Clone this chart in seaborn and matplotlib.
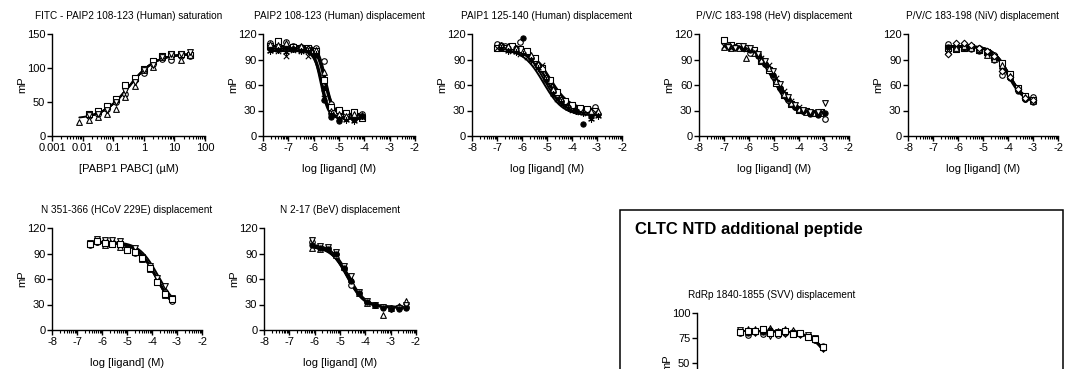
import numpy as np
import pandas as pd
import matplotlib
matplotlib.use("Agg")
import matplotlib.pyplot as plt
import seaborn as sns
from matplotlib.patches import Rectangle
from matplotlib.ticker import FixedLocator, FuncFormatter, NullFormatter, LogLocator

nan = np.nan

# ---------------- FITC-PAIP2 saturation: PABP1 PABC (uM) vs mP ----------------
sat_conc = [0.0078, 0.0156, 0.031, 0.0625, 0.125, 0.25, 0.5, 1, 2, 4, 8, 16, 32]
sat_mp = [
    [nan, 30, 33, 40, 50, 62, 82, 93, 106, 113, 112, 117, 117],
    [nan, 33, 37, 44, 55, 75, 86, 98, 110, 117, 121, 120, 119],
    [20, 23, 28, 33, 40, 58, 73, 97, 102, 116, 118, 112, 119],
    [nan, 31, 32, 38, 50, 66, 80, 97, 104, 116, 121, 120, 123],
]
# top, bottom, EC50 (uM), Hill
sat_fit = [(121, 25, 0.33, 1.0)]

# ---------------- PAIP2 108-123 displacement ----------------
paip2_logc = [-7.71, -7.41, -7.11, -6.81, -6.51, -6.21, -5.91, -5.61, -5.31, -5.01, -4.71, -4.41, -4.10]
paip2_mp = [
    [110, 108, 111, 106, 105, 104, 103, 88, 38, 28, 27, 25, 26],
    [106, 112, 104, 105, 103, 104, 100, 66, 34, 31, 27, 28, 21],
    [101, 100, 94, 101, 100, 94, 98, 45, 25, 22, 23, 21, 22],
    [104, 103, 103, 102, 104, 102, 95, 42, 22, 18, 21, 20, 24],
    [108, 107, 109, 104, 106, 103, 101, 75, 30, 26, 24, 26, 25],
    [100, 101, 99, 102, 100, 100, 96, 55, 26, 20, 19, 18, 23],
]
# top, bottom, logIC50, Hill
paip2_fit = [(106, 26, -5.52, 3.0), (105, 25, -5.58, 2.8), (100, 22, -5.68, 2.8),
             (103, 21, -5.72, 3.0), (106, 25, -5.55, 2.6), (101, 20, -5.65, 3.0)]

# ---------------- PAIP1 125-140 displacement ----------------
paip1_logc_a = [-7.0, -6.7, -6.4, -6.1, -5.8, -5.5, -5.2, -4.9, -4.6, -4.3, -4.0, -3.7, -3.4, -3.1]
paip1_logc_b = [-6.85, -6.55, -6.25, -5.95, -5.65, -5.35, -5.05, -4.75, -4.45, -4.15, -3.85, -3.55, -3.25, -2.95]
paip1_mp = [
    [108, 106, 104, 111, 99, 90, 79, 63, 50, 40, 34, 31, 30, 34],
    [104, 103, 106, 102, 100, 92, 80, 66, 52, 41, 36, 33, 32, 30],
    [104, 103, 100, 97, 93, 85, 84, 60, 44, 36, 31, 28, 27, 28],
    [107, 104, 103, 115, 92, 82, 68, 53, 41, 34, 30, 14, 24, 26],
    [107, 106, 103, 100, 95, 85, 70, 55, 43, 35, 31, 29, 30, 29],
    [103, 100, 99, 96, 90, 80, 66, 50, 40, 33, 29, 27, 20, 24],
]
paip1_fit = [(106, 31, -4.92, 1.1), (105, 31, -4.88, 1.1), (103, 27, -5.00, 1.2),
             (106, 25, -5.10, 1.1), (106, 29, -5.02, 1.1), (102, 24, -5.15, 1.1)]

# ---------------- P/V/C 183-198 (HeV) displacement ----------------
hev_logc_a = [-7.0, -6.7, -6.4, -6.1, -5.8, -5.5, -5.2, -4.9, -4.6, -4.3, -4.0, -3.7, -3.4, -3.1]
hev_logc_b = [-6.85, -6.55, -6.25, -5.95, -5.65, -5.35, -5.05, -4.75, -4.45, -4.15, -3.85, -3.55, -3.25, -2.95]
hev_mp = [
    [113, 107, 106, 104, 101, 88, 78, 62, 48, 38, 31, 29, 27, 28],
    [105, 103, 104, 92, 98, 90, 80, 65, 50, 39, 32, 28, 27, 27],
    [106, 104, 105, 102, 99, 92, 83, 68, 53, 41, 34, 30, 28, 28],
    [107, 105, 104, 98, 96, 85, 71, 56, 42, 34, 30, 27, 26, 20],
    [106, 105, 103, 101, 94, 85, 72, 57, 43, 34, 29, 26, 25, 27],
    [105, 104, 106, 103, 97, 88, 76, 61, 46, 36, 31, 28, 28, 39],
]
hev_fit = [(107, 27, -4.95, 1.15), (105, 26, -4.92, 1.15), (106, 27, -4.88, 1.15),
           (106, 25, -5.00, 1.15), (105, 25, -5.02, 1.15), (106, 27, -4.94, 1.15)]

# ---------------- P/V/C 183-198 (NiV) displacement ----------------
niv_logc = [-6.4, -6.09, -5.78, -5.47, -5.16, -4.85, -4.55, -4.24, -3.93, -3.62, -3.31, -3.0]
niv_mp = [
    [108, 105, 107, 104, 104, 97, 95, 72, 70, 55, 44, 46],
    [103, 102, 104, 105, 101, 99, 93, 86, 73, 57, 47, 42],
    [105, 106, 104, 102, 100, 98, 90, 80, 68, 53, 43, 40],
    [100, 104, 106, 103, 102, 95, 91, 84, 71, 56, 46, 41],
    [97, 109, 109, 107, 103, 100, 94, 76, 69, 55, 45, 42],
]
niv_fit = [(106, 41, -3.98, 1.4), (105, 40, -3.95, 1.4), (105, 39, -4.02, 1.4),
           (106, 40, -3.97, 1.4), (106, 41, -4.02, 1.4)]

# ---------------- N 351-366 (HCoV 229E) displacement ----------------
hcov_logc = [-6.5, -6.2, -5.9, -5.6, -5.3, -5.0, -4.7, -4.4, -4.1, -3.8, -3.5, -3.2]
hcov_mp = [
    [100, 104, 105, 103, 99, 95, 91, 85, 74, 57, 45, 34],
    [101, 103, 103, 102, 100, 96, 93, 84, 73, 59, 43, 37],
    [101, 106, 100, 104, 98, 97, 93, 83, 72, 58, 41, 36],
    [102, 107, 106, 106, 105, 95, 96, 86, 75, 61, 52, 38],
    [101, 105, 102, 101, 101, 94, 92, 85, 73, 56, 42, 36],
]
hcov_fit = [(103, 22, -3.84, 1.15), (103, 22, -3.82, 1.15), (103, 20, -3.84, 1.15),
            (104, 24, -3.76, 1.15), (103, 21, -3.85, 1.15)]

# ---------------- N 2-17 (BeV) displacement ----------------
bev_logc = [-6.1, -5.79, -5.48, -5.17, -4.86, -4.55, -4.24, -3.93, -3.62, -3.31, -3.0, -2.69, -2.38]
bev_mp = [
    [103, 98, 97, 90, 73, 53, 44, 33, 30, 27, 26, 27, 27],
    [96, 95, 96, 88, 74, 60, 43, 32, 29, 18, 26, 28, 34],
    [106, 99, 98, 92, 75, 63, 45, 34, 30, 27, 25, 26, 30],
    [100, 97, 95, 89, 73, 58, 43, 33, 29, 26, 25, 25, 26],
]
bev_fit = [(100, 27, -4.72, 1.3), (98, 27, -4.70, 1.3), (101, 27, -4.66, 1.3), (99, 26, -4.72, 1.3)]

# ---------------- RdRp 1840-1855 (SVV) displacement ----------------
svv_logc = [-6.28, -5.98, -5.68, -5.38, -5.08, -4.78, -4.48, -4.18, -3.88, -3.58, -3.28, -2.98]
svv_mp = [
    [80, 78, 81, 79, 82, 78, 80, 81, 79, 76, 73, 65],
    [82, 84, 84, 83, 85, 82, 84, 83, 80, 77, 74, 66],
    [83, 81, 80, 84, 77, 81, 79, 80, 78, 78, 75, 64],
    [81, 80, 82, 81, 83, 80, 81, 80, 79, 76, 73, 67],
    [81, 82, 82, 84, 80, 80, 82, 79, 80, 76, 74, 66],
]
svv_fit = [(82, 0, -2.40, 1.0), (82, 0, -2.45, 1.0)]

# ------------------------------------------------------------------------------
sns.set_theme(style="ticks")
plt.rcParams["font.family"] = ["Liberation Sans", "DejaVu Sans"]
plt.rcParams.update({
    "text.color": "black", "axes.labelcolor": "black",
    "xtick.color": "black", "ytick.color": "black", "axes.edgecolor": "black",
})

W, H = 1066, 369
fig = plt.figure(figsize=(W / 100, H / 100), dpi=100)

MARKERS = {
    "circle": dict(marker="o", facecolor="white", edgecolor="black", s=16),
    "square": dict(marker="s", facecolor="white", edgecolor="black", s=15),
    "up": dict(marker="^", facecolor="white", edgecolor="black", s=17),
    "down": dict(marker="v", facecolor="white", edgecolor="black", s=17),
    "diamond": dict(marker="D", facecolor="white", edgecolor="black", s=11),
    "cross": dict(marker="x", color="black", s=15),
    "dot": dict(marker="o", facecolor="black", edgecolor="black", s=14),
    "star": dict(marker=(6, 2, 0), color="black", s=17),
}


def logistic(x, top, bottom, logic50, hill):
    return bottom + (top - bottom) / (1 + 10 ** ((x - logic50) * hill))


def saturation(c, top, bottom, ec50, hill):
    return bottom + (top - bottom) * c ** hill / (c ** hill + ec50 ** hill)


def px_axes(left, top, width, height):
    return fig.add_axes([left / W, 1 - (top + height) / H, width / W, height / H])


def draw(ax, xsets, ysets, markers, fits, model, logx=False):
    for xs, ys, fit in zip(xsets, ysets, fits):
        d = pd.DataFrame({"x": xs, "mP": ys}).dropna()
        if logx:
            xx = np.geomspace(d.x.min(), d.x.max(), 300)
        else:
            xx = np.linspace(d.x.min(), d.x.max(), 300)
        curve = pd.DataFrame({"x": xx, "mP": model(xx, *fit)})
        sns.lineplot(data=curve, x="x", y="mP", ax=ax, color="black", lw=1.4,
                     estimator=None, legend=False, zorder=2)
    for xs, ys, mk in zip(xsets, ysets, markers):
        d = pd.DataFrame({"x": xs, "mP": ys}).dropna()
        sns.scatterplot(data=d, x="x", y="mP", ax=ax, linewidth=0.8, zorder=3,
                        clip_on=False, legend=False, **MARKERS[mk])


def finish(ax, title, xlabel, ylim, ystep, w_px, h_px, logx=False, ytick_from=None):
    sns.despine(ax=ax)
    for sp in ("left", "bottom"):
        ax.spines[sp].set_linewidth(1.0)
    if logx:
        ax.set_xscale("log")
        ax.set_xlim(0.001, 100)
        ax.xaxis.set_major_locator(FixedLocator([0.001, 0.01, 0.1, 1, 10, 100]))
        ax.xaxis.set_major_formatter(FuncFormatter(lambda v, _: f"{v:g}"))
        ax.xaxis.set_minor_locator(LogLocator(base=10, subs=np.arange(2, 10), numticks=20))
        ax.xaxis.set_minor_formatter(NullFormatter())
    else:
        ax.set_xlim(-8, -2)
        ax.xaxis.set_major_locator(FixedLocator(np.arange(-8, -1)))
        ax.xaxis.set_major_formatter(FuncFormatter(lambda v, _: f"{v:g}"))
        minors = [d + np.log10(k) for d in range(-8, -2) for k in range(2, 10)]
        ax.xaxis.set_minor_locator(FixedLocator(minors))
    ax.set_ylim(*ylim)
    start = ylim[0] if ytick_from is None else ytick_from
    ax.yaxis.set_major_locator(FixedLocator(np.arange(start, ylim[1] + 1, ystep)))
    ax.tick_params(axis="both", which="major", direction="out", length=3.6, width=1.0,
                   labelsize=8)
    ax.tick_params(axis="x", which="major", pad=1.6)
    ax.tick_params(axis="y", which="major", pad=1.2)
    ax.tick_params(axis="x", which="minor", direction="out", length=2.2, width=0.8)
    ax.set_title(title, fontsize=7.2, pad=11)
    ax.set_xlabel(xlabel, fontsize=8)
    ax.set_ylabel("mP", fontsize=8)
    ax.xaxis.set_label_coords(0.5, -33 / h_px)
    ax.xaxis.label.set_verticalalignment("center")
    ax.yaxis.set_label_coords(-30 / w_px, 0.5)
    ax.yaxis.label.set_verticalalignment("center")
    ax.grid(False)


LIG = "log [ligand] (M)"

# Row 1
ax1 = px_axes(52, 34, 153, 102)
draw(ax1, [sat_conc] * 4, sat_mp, ["circle", "square", "up", "down"], sat_fit * 4,
     saturation, logx=True)
finish(ax1, "FITC - PAIP2 108-123 (Human) saturation", "[PABP1 PABC] (µM)",
       (0, 150), 50, 153, 102, logx=True)

ax2 = px_axes(263, 34, 152, 102)
draw(ax2, [paip2_logc] * 6, paip2_mp, ["circle", "square", "cross", "dot", "up", "star"],
     paip2_fit, logistic)
finish(ax2, "PAIP2 108-123 (Human) displacement", LIG, (0, 120), 30, 152, 102)

ax3 = px_axes(472, 34, 150, 102)
draw(ax3, [paip1_logc_a] * 3 + [paip1_logc_b] * 3, paip1_mp,
     ["circle", "square", "cross", "dot", "up", "star"], paip1_fit, logistic)
finish(ax3, "PAIP1 125-140 (Human) displacement", LIG, (0, 120), 30, 150, 102)

ax4 = px_axes(699, 34, 150, 102)
draw(ax4, [hev_logc_a] * 3 + [hev_logc_b] * 3, hev_mp,
     ["square", "up", "cross", "circle", "dot", "down"], hev_fit, logistic)
finish(ax4, "P/V/C 183-198 (HeV) displacement", LIG, (0, 120), 30, 150, 102)

ax5 = px_axes(908, 34, 150, 102)
draw(ax5, [niv_logc] * 5, niv_mp, ["circle", "square", "dot", "up", "diamond"],
     niv_fit, logistic)
finish(ax5, "P/V/C 183-198 (NiV) displacement", LIG, (0, 120), 30, 150, 102)

# Row 2
ax6 = px_axes(52, 228, 150, 102)
draw(ax6, [hcov_logc] * 5, hcov_mp, ["circle", "dot", "up", "down", "square"],
     hcov_fit, logistic)
finish(ax6, "N 351-366 (HCoV 229E) displacement", LIG, (0, 120), 30, 150, 102)

ax7 = px_axes(264, 228, 152, 102)
draw(ax7, [bev_logc] * 4, bev_mp, ["circle", "up", "down", "dot"], bev_fit, logistic)
finish(ax7, "N 2-17 (BeV) displacement", LIG, (0, 120), 30, 152, 102)

# Boxed section (runs past the lower edge of the canvas)
fig.patches.append(Rectangle((620 / W, -0.5), (1063 - 620) / W, 0.5 + (H - 210) / H,
                             transform=fig.transFigure, fill=False, lw=1.1,
                             edgecolor="black"))
fig.text(635 / W, 1 - 230 / H, "CLTC NTD additional peptide", fontsize=12,
         fontweight="bold", ha="left", va="center")

ax8 = px_axes(697, 313, 150, 100)
draw(ax8, [svv_logc] * 5, svv_mp, ["circle", "up", "down", "dot", "square"],
     [svv_fit[0], svv_fit[1], svv_fit[0], svv_fit[1], svv_fit[0]], logistic)
finish(ax8, "RdRp 1840-1855 (SVV) displacement", "", (0, 100), 25, 150, 100,
       ytick_from=50)
# only the upper part of this panel falls on the canvas
ax8.tick_params(axis="x", which="both", labelbottom=False)

fig.savefig("out.png", dpi=100)
